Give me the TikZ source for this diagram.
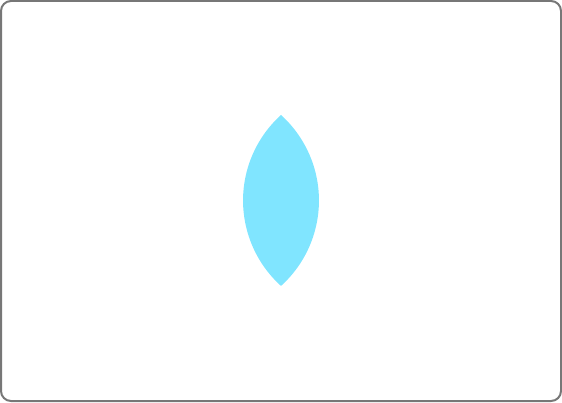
\documentclass[tikz,border=0pt]{standalone}
\begin{document}
\begin{tikzpicture}[x=1pt,y=1pt]
\definecolor{lenscol}{HTML}{80E5FF}
\definecolor{framecol}{HTML}{777777}
\tikzset{frame/.style={draw=framecol,line width=2pt,rounded corners=10pt},
lens/.style={fill=lenscol,draw=none}}
\useasboundingbox (0,0) rectangle (562,402);
\draw[frame] (1,1) rectangle (561,401);
\coordinate (top) at (281,287);
\fill[lens] (top) arc[start angle=47.9,end angle=-47.9,radius=115.2]
  arc[start angle=227.9,end angle=132.1,radius=115.2] -- cycle;
\end{tikzpicture}
\end{document}
